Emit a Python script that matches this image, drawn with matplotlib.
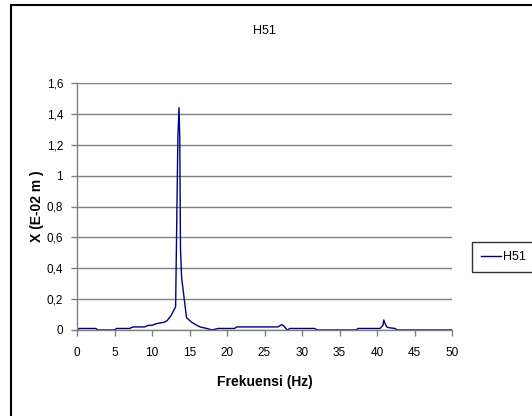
import matplotlib
matplotlib.use("Agg")
import matplotlib.pyplot as plt
from matplotlib.patches import Rectangle

plt.rcParams['font.family'] = ['Liberation Sans', 'DejaVu Sans']

freq = [0.0, 0.3, 2.5, 2.8, 5.0, 5.3, 7.0, 7.5, 9.0, 9.5, 10.0, 10.5, 11.0, 11.6,
        12.0, 12.5, 13.15, 13.45, 13.6, 13.7, 13.8, 13.95, 14.6, 15.3, 16.0, 16.4,
        17.3, 18.0, 18.8, 21.0, 21.3, 26.8, 27.3, 27.6, 28.0, 28.4, 31.7, 32.0,
        37.2, 37.5, 40.4, 40.8, 40.9, 41.1, 41.3, 41.6, 42.4, 42.7, 50.0]
amp = [0.0, 0.01, 0.01, 0.0, 0.0, 0.01, 0.01, 0.02, 0.02, 0.03, 0.03, 0.04, 0.045, 0.05,
       0.06, 0.09, 0.15, 1.25, 1.44, 1.25, 0.52, 0.34, 0.08, 0.05, 0.03, 0.02,
       0.01, 0.0, 0.01, 0.01, 0.02, 0.02, 0.035, 0.025, 0.0, 0.01, 0.01, 0.0,
       0.0, 0.01, 0.01, 0.03, 0.065, 0.04, 0.02, 0.015, 0.01, 0.0, 0.0]
series_name = "H51"
xticks = [0, 5, 10, 15, 20, 25, 30, 35, 40, 45, 50]
yticks = [0, 0.2, 0.4, 0.6, 0.8, 1.0, 1.2, 1.4, 1.6]
ytick_labels = ["0", "0,2", "0,4", "0,6", "0,8", "1", "1,2", "1,4", "1,6"]

W, H = 532, 416
fig = plt.figure(figsize=(W/100, H/100), dpi=100)
ax = fig.add_axes([77/W, 1-330/H, (452-77)/W, (330-83)/H])

ax.plot(freq, amp, color='#000080', lw=1.0, label=series_name)
ax.set_xlim(0, 50)
ax.set_ylim(0, 1.6)
ax.set_xticks(xticks)
ax.set_xticklabels([str(v) for v in xticks], fontsize=8.5)
ax.set_yticks(yticks)
ax.set_yticklabels(ytick_labels, fontsize=8.5)
ax.yaxis.grid(True, color='#808080', lw=1.0)
ax.set_axisbelow(True)
for s in ['top', 'right']:
    ax.spines[s].set_visible(False)
for s in ['left', 'bottom']:
    ax.spines[s].set_color('#808080')
    ax.spines[s].set_linewidth(1.0)
ax.tick_params(axis='x', direction='out', length=4, color='#808080', width=1.0, pad=8)
ax.tick_params(axis='y', direction='out', length=4, color='#808080', width=1.0, pad=6)
ax.set_xlabel("Frekuensi (Hz)", fontsize=10, fontweight='bold', labelpad=12)
ax.set_ylabel("X (E-02 m )", fontsize=10, fontweight='bold', labelpad=2)

fig.text(264/W, 1-31/H, "H51", ha='center', va='center', fontsize=9)

leg = ax.legend(loc='center left', bbox_to_anchor=(472/W, 1-257/H),
                bbox_transform=fig.transFigure, frameon=True, fancybox=False,
                fontsize=9, handlelength=1.6, handletextpad=0.2, borderpad=0.7,
                borderaxespad=0)
leg.get_frame().set_edgecolor('black')
leg.get_frame().set_linewidth(1.0)

fig.patches.append(Rectangle((11/W, -0.05), 1.1, 1-5/H+0.05, transform=fig.transFigure,
                             fill=False, edgecolor='black', lw=1.5, zorder=0))

fig.savefig("out.png", dpi=100)
